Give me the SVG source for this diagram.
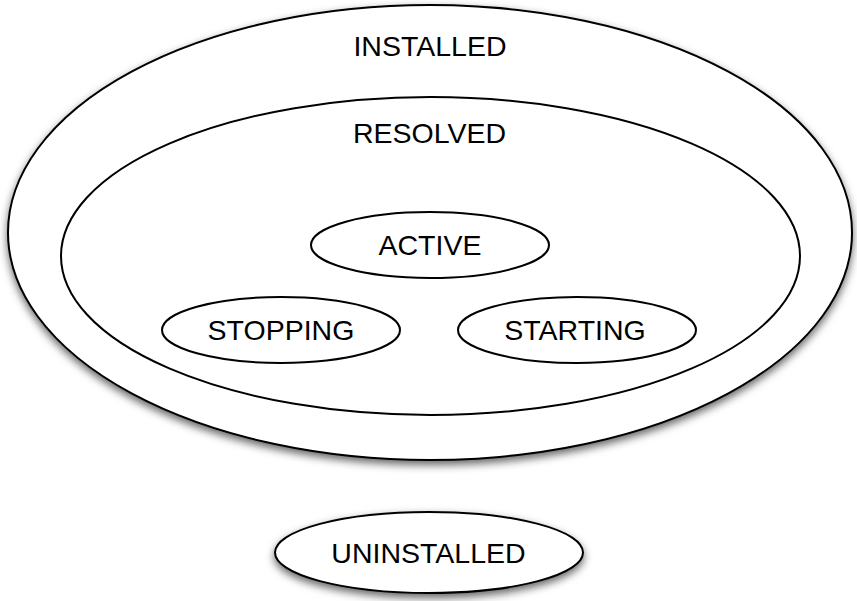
<svg xmlns="http://www.w3.org/2000/svg" width="857" height="601" viewBox="0 0 857 601">
<defs>
<filter id="sh" x="-10%" y="-10%" width="120%" height="130%">
<feDropShadow dx="0" dy="4" stdDeviation="4" flood-color="#000" flood-opacity="0.6"/>
</filter>
<style>
.n{fill:#fff;stroke:#000;stroke-width:2}
.t{font-family:"Liberation Sans",Arial,sans-serif;font-size:28.5px;fill:#000;text-anchor:middle}
</style>
</defs>
<rect width="857" height="601" fill="#fff"/>
<g id="installed">
<ellipse class="n" cx="430" cy="232.5" rx="422" ry="227.5" filter="url(#sh)"/>
<text class="t" x="430" y="56">INSTALLED</text>
</g>
<g id="resolved">
<ellipse class="n" cx="430.5" cy="256" rx="369.5" ry="159"/>
<text class="t" x="429.5" y="143">RESOLVED</text>
</g>
<g id="active">
<ellipse class="n" cx="430" cy="245" rx="119" ry="33"/>
<text class="t" x="430" y="255">ACTIVE</text>
</g>
<g id="stopping">
<ellipse class="n" cx="281" cy="330" rx="119" ry="33"/>
<text class="t" x="281" y="340">STOPPING</text>
</g>
<g id="starting">
<ellipse class="n" cx="577" cy="330" rx="119" ry="33"/>
<text class="t" x="575" y="340">STARTING</text>
</g>
<g id="uninstalled">
<ellipse class="n" cx="429" cy="552.5" rx="154" ry="40.5" filter="url(#sh)"/>
<text class="t" x="428.5" y="563">UNINSTALLED</text>
</g>
<g id="connectors"/>
</svg>
